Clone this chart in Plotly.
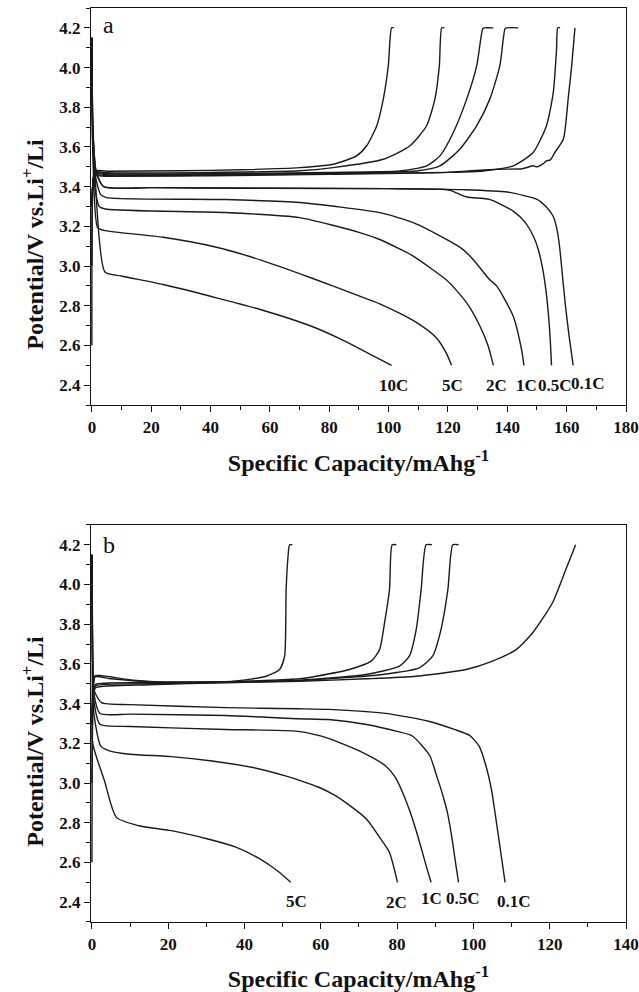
import plotly.graph_objects as go

# ---------------- Panel a data (capacity mAh/g, potential V) ----------------
A_DIS_01C = [(0, 4.15), (0.3, 3.7), (1.5, 3.47), (4, 3.40), (20, 3.395), (60, 3.392), (100, 3.39),
             (125, 3.385), (140, 3.373), (150, 3.336), (153, 3.30), (155.5, 3.25), (156.8, 3.18),
             (157.6, 3.10), (158.6, 2.95), (159.6, 2.80), (160.8, 2.65), (162.2, 2.5)]
A_DIS_05C = [(0, 4.15), (0.3, 3.7), (1.5, 3.47), (4, 3.40), (20, 3.395), (60, 3.392), (100, 3.39),
             (118, 3.387), (121, 3.38), (126.3, 3.348), (134, 3.336), (142, 3.277), (146, 3.22),
             (148.8, 3.15), (150.5, 3.08), (152, 2.98), (153, 2.88), (153.9, 2.75), (154.5, 2.62),
             (154.9, 2.5)]
A_DIS_1C = [(0, 4.15), (0.3, 3.7), (1.2, 3.45), (3, 3.36), (5, 3.345), (45, 3.335), (70, 3.32),
            (97, 3.269), (108.3, 3.219), (119.5, 3.134), (125, 3.084), (128.5, 3.033), (134, 2.932),
            (136.4, 2.9), (142, 2.747), (144.8, 2.579), (145.6, 2.5)]
A_DIS_2C = [(0, 4.15), (0.3, 3.7), (1, 3.4), (2.5, 3.3), (5, 3.286), (45, 3.27), (70, 3.244),
            (90, 3.17), (97, 3.134), (104, 3.084), (108.3, 3.05), (119.5, 2.93), (123, 2.875),
            (127, 2.8), (130.8, 2.697), (133.5, 2.6), (135.3, 2.5)]
A_DIS_5C = [(0, 4.15), (0.2, 3.64), (1.9, 3.195), (4, 3.18), (24, 3.145), (42, 3.095), (57, 3.03),
            (74, 2.94), (90, 2.85), (97, 2.81), (104, 2.76), (110, 2.71), (116, 2.64), (119.5, 2.56),
            (121.2, 2.5)]
A_DIS_10C = [(0, 4.1), (0.3, 3.62), (1, 3.47), (4.4, 2.97), (10, 2.95), (24, 2.907), (42, 2.84),
             (57, 2.78), (74, 2.697), (83, 2.638), (93, 2.562), (101, 2.5)]

A_CH_10C = [(0, 2.6), (0.3, 3.40), (1, 3.48), (5, 3.478), (30, 3.48), (50, 3.485), (70, 3.496),
            (81.3, 3.513), (89.2, 3.555), (92.6, 3.606), (96, 3.707), (98.2, 3.841), (99.9, 4.01),
            (101, 4.2), (101.8, 4.2)]
A_CH_5C = [(0, 3.0), (0.3, 3.4), (1, 3.475), (5, 3.47), (40, 3.472), (70, 3.48), (81.3, 3.496),
           (98.2, 3.538), (107.2, 3.606), (112.8, 3.707), (115.6, 3.841), (117.1, 4.01), (117.9, 4.2),
           (118.8, 4.2)]
A_CH_2C = [(0, 3.3), (0.5, 3.44), (1.2, 3.47), (5, 3.465), (40, 3.465), (80, 3.472), (103.8, 3.479),
           (112.8, 3.505), (117.3, 3.555), (121.8, 3.673), (126.3, 3.841), (129.7, 4.01), (131.7, 4.195),
           (132.2, 4.2), (135.3, 4.2)]
A_CH_1C = [(0, 3.3), (0.5, 3.44), (1.2, 3.468), (5, 3.46), (40, 3.462), (80, 3.468), (109.4, 3.479),
           (117.3, 3.505), (124, 3.589), (129.7, 3.707), (134.1, 3.841), (137.5, 4.01), (139.2, 4.195),
           (139.7, 4.2), (143.7, 4.2)]
A_CH_05C = [(0, 3.3), (0.5, 3.44), (1.2, 3.46), (5, 3.455), (40, 3.458), (80, 3.465), (120, 3.472),
            (131.9, 3.479), (142, 3.505), (148.7, 3.572), (153.2, 3.707), (155.5, 3.875), (156.6, 4.094),
            (157, 4.2), (157.8, 4.2)]
A_CH_01C = [(0, 3.3), (0.5, 3.44), (1.2, 3.455), (5, 3.452), (40, 3.455), (80, 3.462), (120, 3.472),
            (136.4, 3.488), (145, 3.49), (148.7, 3.505), (150, 3.50), (152, 3.515), (153.2, 3.53),
            (154.5, 3.535), (156, 3.572), (158.9, 3.64), (160.5, 3.841), (161.7, 4.01), (162.8, 4.2)]

A_LABELS = ["10C", "5C", "2C", "1C", "0.5C", "0.1C"]
A_LABEL_X = [101.5, 121.4, 136.5, 146.3, 156.0, 167.3]
A_LABEL_Y = [2.40, 2.40, 2.40, 2.40, 2.40, 2.41]

# ---------------- Panel b data ----------------
B_DIS_01C = [(0, 4.15), (0.2, 3.6), (0.5, 3.47), (2.5, 3.405), (10, 3.395), (35, 3.38), (54, 3.374),
             (62, 3.371), (77, 3.351), (88.5, 3.31), (95, 3.27), (99, 3.24), (101.5, 3.186),
             (103.3, 3.086), (104.7, 2.97), (106.8, 2.70), (108.3, 2.5)]
B_DIS_05C = [(0, 4.15), (0.2, 3.6), (0.5, 3.45), (2.1, 3.35), (10, 3.347), (35, 3.34), (54, 3.324),
             (62, 3.32), (72, 3.295), (80, 3.26), (84, 3.237), (88.5, 3.14), (90.3, 3.04),
             (91.8, 2.95), (93.2, 2.85), (94.4, 2.72), (95.3, 2.6), (96.1, 2.5)]
B_DIS_1C = [(0, 4.15), (0.2, 3.6), (0.6, 3.4), (2.1, 3.296), (10, 3.285), (35, 3.27), (54, 3.26),
            (62, 3.225), (71, 3.153), (77, 3.086), (79.5, 3.03), (81.5, 2.95), (83.3, 2.86),
            (85, 2.76), (86.5, 2.66), (87.8, 2.57), (88.9, 2.5)]
B_DIS_2C = [(0, 4.15), (0.2, 3.5), (0.5, 3.35), (2.3, 3.186), (4.8, 3.161), (10, 3.145), (20.8, 3.133),
            (31.5, 3.111), (42.2, 3.078), (50.7, 3.036), (55, 3.01), (59.3, 2.98), (63.5, 2.94),
            (67, 2.895), (72, 2.818), (76, 2.71), (78, 2.65), (80.1, 2.5)]
B_DIS_5C = [(0, 4.15), (0.1, 3.5), (0.2, 3.2), (3.3, 3.01), (6.4, 2.827), (12.3, 2.785), (20.8, 2.76),
            (30.4, 2.718), (37.9, 2.676), (43.8, 2.62), (48.6, 2.558), (52.1, 2.5)]

B_CH_5C = [(0, 2.6), (0.3, 3.45), (0.8, 3.54), (2.1, 3.542), (10.8, 3.518), (19.5, 3.508), (37, 3.513),
           (45.7, 3.538), (49.2, 3.572), (50.5, 3.639), (50.9, 3.974), (51.4, 4.141), (51.8, 4.2),
           (52.5, 4.2)]
B_CH_2C = [(0, 3.0), (0.3, 3.45), (0.8, 3.535), (5, 3.525), (15, 3.51), (35, 3.51), (54.4, 3.525),
           (58.8, 3.538), (67.5, 3.572), (73.2, 3.614), (75.4, 3.672), (76.7, 3.807), (78, 3.974),
           (78.7, 4.2), (79.8, 4.2)]
B_CH_1C = [(0, 3.3), (0.4, 3.47), (1, 3.497), (15, 3.505), (35, 3.51), (54.4, 3.518), (71.9, 3.547),
           (80.6, 3.589), (83.2, 3.639), (85, 3.773), (86.3, 3.974), (87.6, 4.2), (89.1, 4.2)]
B_CH_05C = [(0, 3.3), (0.4, 3.46), (1, 3.49), (15, 3.50), (35, 3.508), (54.4, 3.516), (76.2, 3.547),
            (85.8, 3.58), (89.3, 3.639), (91.5, 3.773), (93.3, 3.974), (94.6, 4.2), (96.1, 4.2)]
B_CH_01C = [(0, 3.3), (0.4, 3.45), (1, 3.48), (15, 3.495), (35, 3.505), (54.4, 3.513), (71.9, 3.525),
            (85, 3.538), (98.1, 3.572), (105, 3.614), (111.2, 3.672), (115.5, 3.756), (120.7, 3.907),
            (124.2, 4.074), (126.8, 4.2)]

B_LABELS = ["5C", "2C", "1C", "0.5C", "0.1C"]
B_LABEL_X = [53.6, 79.9, 89.0, 97.2, 110.7]
B_LABEL_Y = [2.404, 2.398, 2.416, 2.416, 2.404]

A_XTICKS = list(range(0, 181, 20))
B_XTICKS = list(range(0, 141, 20))
Y_TICKS = [2.4, 2.6, 2.8, 3.0, 3.2, 3.4, 3.6, 3.8, 4.0, 4.2]

X_TITLE = "Specific Capacity/mAhg<sup>-1</sup>"
Y_TITLE = "Potential/V vs.Li<sup>+</sup>/Li"

# ---------------- Figure ----------------
FONT = "Liberation Serif"
LINE = "#1a1a1a"
fig = go.Figure()

def add_curves(curves, xa, ya):
    for pts in curves:
        fig.add_trace(go.Scatter(x=[p[0] for p in pts], y=[p[1] for p in pts], mode="lines",
                                 line=dict(color=LINE, width=1.4, shape="spline", smoothing=0.6),
                                 xaxis=xa, yaxis=ya, showlegend=False, hoverinfo="skip"))

add_curves([A_DIS_01C, A_DIS_05C, A_DIS_1C, A_DIS_2C, A_DIS_5C, A_DIS_10C,
            A_CH_10C, A_CH_5C, A_CH_2C, A_CH_1C, A_CH_05C, A_CH_01C], "x", "y")
add_curves([B_DIS_01C, B_DIS_05C, B_DIS_1C, B_DIS_2C, B_DIS_5C,
            B_CH_5C, B_CH_2C, B_CH_1C, B_CH_05C, B_CH_01C], "x2", "y2")

tickfont = dict(family=FONT, size=17, color="#111", weight="bold")
titlefont = dict(family=FONT, size=24, color="#111", weight="bold")

def xaxis(rng, ticks, anchor):
    return dict(range=rng, tickvals=ticks, ticks="outside", ticklen=6, tickwidth=1.2, tickcolor="#111",
                minor=dict(dtick=10, tick0=0, ticks="outside", ticklen=3.5, tickwidth=1, tickcolor="#111"),
                showline=True, linecolor="#111", linewidth=1.3, mirror=True, showgrid=False,
                zeroline=False, tickfont=tickfont, anchor=anchor, automargin=False,
                ticklabeloverflow="allow",
                title=dict(text=X_TITLE, font=titlefont, standoff=18))

def yaxis(dom, anchor):
    return dict(range=[2.3, 4.3], domain=dom, tickvals=Y_TICKS, ticktext=[f"{v:.1f}" for v in Y_TICKS],
                ticks="outside", ticklen=6, tickwidth=1.2, tickcolor="#111",
                minor=dict(dtick=0.1, tick0=2.3, ticks="outside", ticklen=3.5, tickwidth=1, tickcolor="#111"),
                showline=True, linecolor="#111", linewidth=1.3, mirror=True, showgrid=False,
                zeroline=False, tickfont=tickfont, anchor=anchor, automargin=False)

def overlay_x(rng, over, anchor):
    return dict(range=rng, overlaying=over, side="top", anchor=anchor, dtick=10, tick0=0,
                ticks="inside", ticklen=3, tickwidth=1, tickcolor="#111", showticklabels=False,
                showgrid=False, zeroline=False, showline=False, automargin=False)

def overlay_y(over, anchor):
    return dict(range=[2.3, 4.3], overlaying=over, side="right", anchor=anchor, dtick=0.2, tick0=2.4,
                ticks="inside", ticklen=3, tickwidth=1, tickcolor="#111", showticklabels=False,
                showgrid=False, zeroline=False, showline=False, automargin=False)

DOM_A = [0.5656, 1.0]
DOM_B = [0.0, 0.4344]

lab_font = dict(family=FONT, size=17, color="#111", weight="bold")
annotations = []
for t, x, y in zip(A_LABELS, A_LABEL_X, A_LABEL_Y):
    annotations.append(dict(x=x, y=y, xref="x", yref="y", text=t, showarrow=False, font=lab_font))
for t, x, y in zip(B_LABELS, B_LABEL_X, B_LABEL_Y):
    annotations.append(dict(x=x, y=y, xref="x2", yref="y2", text=t, showarrow=False, font=lab_font))
annotations.append(dict(x=3.0, y=4.215, xref="x", yref="y", text="a", showarrow=False, xanchor="left",
                        font=dict(family=FONT, size=24, color="#111")))
annotations.append(dict(x=2.3, y=4.2, xref="x2", yref="y2", text="b", showarrow=False, xanchor="left",
                        font=dict(family=FONT, size=24, color="#111")))
# rotated y-axis titles (placed slightly below the panel centres, as in the original)
for ypos in (0.7418, 0.198):
    annotations.append(dict(x=-0.109, y=ypos, xref="paper", yref="paper", text=Y_TITLE, textangle=-90,
                            showarrow=False, xanchor="center", yanchor="middle", font=titlefont))

# Plot area spans page x 91..626, y 8..922 (page body margin removed below).
fig.update_layout(
    width=639, height=992,
    margin=dict(l=91, r=13, t=8, b=70, autoexpand=False),
    paper_bgcolor="white", plot_bgcolor="white",
    xaxis=xaxis([-0.3, 180], A_XTICKS, "y"),
    yaxis=yaxis(DOM_A, "x"),
    xaxis2=xaxis([-0.25, 140], B_XTICKS, "y2"),
    yaxis2=yaxis(DOM_B, "x2"),
    xaxis3=overlay_x([-0.3, 180], "x", "y"),
    yaxis3=overlay_y("y", "x"),
    xaxis4=overlay_x([-0.25, 140], "x2", "y2"),
    yaxis4=overlay_y("y2", "x2"),
    annotations=annotations,
)

fig.write_html("out.html", config={"displayModeBar": False},
               post_script="document.body.style.margin='0px';")
